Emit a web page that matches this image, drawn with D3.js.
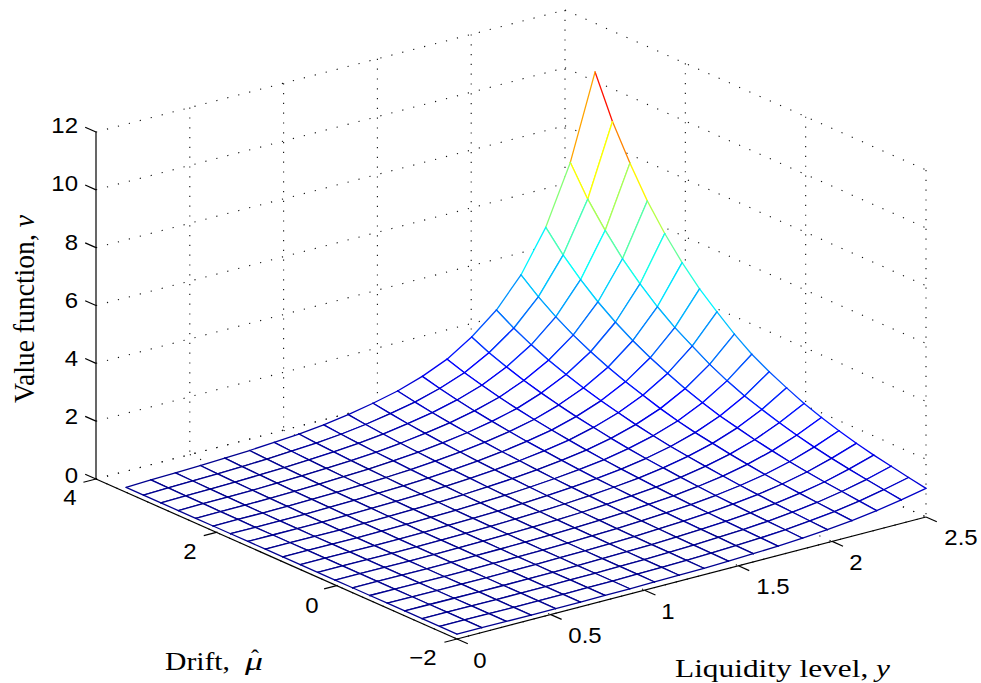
<!DOCTYPE html>
<html><head><meta charset="utf-8">
<style>html,body{margin:0;padding:0;background:#fff}svg{display:block}</style>
<script src="https://cdn.jsdelivr.net/npm/d3@7"></script></head>
<body><svg id="c" width="981" height="683"></svg>
<script>
// Liquidity level y (mesh columns)
const liquidity = [0,0.132,0.263,0.395,0.526,0.658,0.789,0.921,1.053,1.184,1.316,1.447,1.579,1.711,1.842,1.974,2.105,2.237,2.368,2.5];
// Drift mu (mesh rows)
const drift = [-2,-1.711,-1.421,-1.132,-0.842,-0.553,-0.263,0.026,0.316,0.605,0.895,1.184,1.474,1.763,2.053,2.342,2.632,2.921,3.211,3.5];
// Value function v: one list per liquidity level, in drift order
const value = [
[.17,.17,.17,.17,.17,.17,.17,.17,.17,.17,.17,.17,.17,.17,.17,.17,.17,.17,.17,.17],
[.17,.17,.17,.17,.17,.17,.17,.17,.17,.17,.17,.17,.17,.17,.175,.18,.185,.19,.195,.205],
[.165,.165,.165,.165,.165,.165,.165,.165,.165,.165,.165,.165,.17,.17,.175,.18,.19,.2,.215,.23],
[.16,.16,.16,.16,.16,.16,.16,.16,.16,.16,.161,.165,.17,.176,.185,.195,.205,.22,.239,.261],
[.165,.165,.165,.162,.162,.162,.162,.163,.165,.167,.171,.175,.184,.192,.203,.216,.229,.247,.27,.294],
[.168,.168,.168,.167,.167,.167,.168,.17,.173,.177,.184,.19,.201,.211,.225,.241,.258,.28,.307,.336],
[.176,.176,.176,.174,.176,.175,.179,.183,.188,.194,.203,.212,.226,.239,.256,.276,.297,.324,.357,.394],
[.183,.184,.185,.185,.188,.188,.194,.2,.207,.215,.226,.238,.256,.272,.293,.318,.344,.377,.416,.462],
[.195,.198,.2,.201,.206,.208,.216,.225,.234,.245,.259,.275,.298,.319,.345,.376,.409,.45,.498,.555],
[.207,.212,.216,.219,.226,.231,.242,.254,.267,.282,.301,.323,.353,.381,.415,.455,.499,.552,.614,.687],
[.225,.232,.239,.244,.254,.263,.278,.294,.312,.332,.357,.387,.426,.462,.507,.559,.617,.686,.766,.86],
[.253,.263,.273,.281,.295,.308,.327,.348,.372,.398,.43,.469,.518,.564,.621,.686,.759,.846,.946,1.063],
[.285,.299,.313,.325,.344,.362,.387,.415,.447,.481,.523,.574,.637,.697,.772,.856,.951,1.064,1.193,1.345],
[.323,.342,.361,.378,.403,.427,.461,.497,.54,.584,.64,.706,.788,.868,.966,1.075,1.201,1.349,1.517,1.718],
[.376,.402,.428,.452,.485,.519,.564,.613,.671,.73,.806,.895,1.004,1.112,1.243,1.391,1.561,1.761,1.988,2.261],
[.449,.484,.519,.552,.596,.643,.702,.768,.846,.924,1.026,1.145,1.289,1.435,1.609,1.808,2.036,2.303,2.61,2.974],
[.541,.588,.635,.681,.739,.803,.883,.971,1.076,1.182,1.318,1.478,1.672,1.87,2.106,2.377,2.685,3.049,3.472,3.966],
[.664,.727,.791,.854,.933,1.021,1.129,1.248,1.391,1.535,1.723,1.941,2.205,2.478,2.802,3.175,3.608,4.112,4.695,5.389],
[.817,.9,.984,1.077,1.181,1.304,1.447,1.611,1.804,2.008,2.261,2.564,2.928,3.301,3.755,4.278,4.881,5.595,6.408,7.412],
[.99,1.1,1.22,1.34,1.48,1.65,1.84,2.06,2.33,2.62,2.96,3.39,3.89,4.42,5.06,5.8,6.66,7.7,8.87,10.32]
];
const liquidityTicks = [0,0.5,1,1.5,2,2.5];
const liquidityTickLabels = ["0","0.5","1","1.5","2","2.5"];
const driftTicks = [-2,0,2,4];
const driftTickLabels = ["\u22122","0","2","4"];
const valueTicks = [0,2,4,6,8,10,12];
const valueTickLabels = ["0","2","4","6","8","10","12"];

const svg = d3.select("#c");
const origin = [457,639];
const yToX = d3.scaleLinear([0,2.5],[0,469]), yToY = d3.scaleLinear([0,2.5],[0,-122]);
const muToX = d3.scaleLinear([-2,4],[0,-361]), muToY = d3.scaleLinear([-2,4],[0,-160]);
const vToY = d3.scaleLinear([0,12],[0,-347]);
const P = (y,m,v)=>[origin[0]+yToX(y)+muToX(m), origin[1]+yToY(y)+muToY(m)+vToY(v)];
const line = d3.line();

// jet colormap, 64 levels
const jet = d3.scaleLinear().domain([0,.125,.375,.625,.875,1])
  .range(["#00008f","#0000ff","#00ffff","#ffff00","#ff0000","#800000"]).clamp(true);
const flat = value.flat();
const clim = d3.scaleLinear(d3.extent(flat),[0,1]);
const colour = v=>jet(Math.min(63,Math.floor(clim(v)*64))/63);

// dotted grid on the two back walls and the floor
const grid = svg.append("g").attr("fill","none").attr("stroke","#111").attr("stroke-width",1.1);
const dot = (a,b,dash)=>grid.append("path").attr("d",line([a,b])).attr("stroke-dasharray",dash);
valueTicks.forEach(v=>{
  dot(P(0,4,v),P(2.5,4,v),"1.2 10.1");
  dot(P(2.5,4,v),P(2.5,-2,v),"1.2 10");
});
liquidityTicks.forEach(y=>{
  if(y>0) dot(P(y,4,12),P(y,4,0),"1.2 8.6");
  dot(P(y,4,0),P(y,-2,0),"1.2 10");
});
driftTicks.forEach(m=>{
  if(m<4) dot(P(2.5,m,12),P(2.5,m,0),"1.2 8.6");
  dot(P(0,m,0),P(2.5,m,0),"1.2 10.1");
});

// axes and ticks
const ax = svg.append("g").attr("fill","none").attr("stroke","#000").attr("stroke-width",1.2);
ax.append("path").attr("d",line([P(0,4,0),P(0,4,12)]));
ax.append("path").attr("d",line([P(0,4,0),P(0,-2,0)]));
ax.append("path").attr("d",line([P(0,-2,0),P(2.5,-2,0)]));
valueTicks.forEach(v=>ax.append("path").attr("d",line([P(0,4,v),P(0,4.18,v)])));
driftTicks.forEach(m=>ax.append("path").attr("d",line([P(0,m,0),P(-0.067,m,0)])));
liquidityTicks.forEach(y=>ax.append("path").attr("d",line([P(y,-2,0),P(y,-2.18,0)])));

// mesh, far cells first, white faces hide what is behind
const cells = [];
for(let i=liquidity.length-2;i>=0;i--) for(let j=drift.length-2;j>=0;j--) cells.push({i,j});
const node = (i,j)=>P(liquidity[i],drift[j],value[i][j]);
const g = svg.append("g").selectAll("g").data(cells).join("g").attr("fill","none").attr("stroke-width",1.3);
g.append("path").attr("fill","#fff").attr("stroke","none")
  .attr("d",d=>line([node(d.i,d.j),node(d.i+1,d.j),node(d.i+1,d.j+1),node(d.i,d.j+1)])+"Z");
[[0,0,1,0],[0,0,0,1],[1,0,1,1],[0,1,1,1]].forEach(e=>{
  g.append("path").attr("stroke",d=>colour(value[d.i+e[0]][d.j+e[1]]))
   .attr("stroke-linecap","round")
   .attr("d",d=>line([node(d.i+e[0],d.j+e[1]),node(d.i+e[2],d.j+e[3])]));
});

// tick labels, slightly wider than tall as in the reference
const sans = "'Liberation Sans',Arial,sans-serif";
const lab = (s,x,y,anchor)=>svg.append("text").attr("text-anchor",anchor||"middle")
  .attr("transform",`translate(${x},${y}) scale(1.09,1)`)
  .attr("font-family",sans).attr("font-size",22).attr("fill","#000").text(s);
const vLabelPos = [[78,483],[78,424],[78,366],[78,308],[78,250],[78,191],[78,133]];
valueTickLabels.forEach((s,k)=>lab(s,vLabelPos[k][0],vLabelPos[k][1],"end"));
const dLabelPos = [[423,665],[312,613],[190,559],[70,505]];
driftTickLabels.forEach((s,k)=>lab(s,dLabelPos[k][0],dLabelPos[k][1]));
const yLabelPos = [[480,668],[585,643],[668,619],[773,594],[856,570],[961,545]];
liquidityTickLabels.forEach((s,k)=>lab(s,yLabelPos[k][0],yLabelPos[k][1]));

// axis titles
const serif = "'Liberation Serif','Times New Roman',serif";
const title = (x,y,rot,size,len,parts)=>{
  const t = svg.append("text").attr("font-family",serif).attr("font-size",size).attr("fill","#000")
    .attr("transform",`translate(${x},${y}) rotate(${rot})`).attr("textLength",len).attr("lengthAdjust","spacingAndGlyphs");
  parts.forEach(p=>t.append("tspan").attr("font-style",p[1]?"italic":"normal").text(p[0]));
};
title(675,677,0,26,215,[["Liquidity level, ",0],["y",1]]);
title(34,403,-90,30,188,[["Value function, ",0],["v",1]]);
title(165,670,0,26,65,[["Drift,",0]]);
title(245,670,0,26,18,[["\u03BC",1]]);
svg.append("text").attr("font-family",serif).attr("font-size",24).attr("text-anchor","middle")
  .attr("x",255).attr("y",666).text("\u02C6");
</script></body></html>
